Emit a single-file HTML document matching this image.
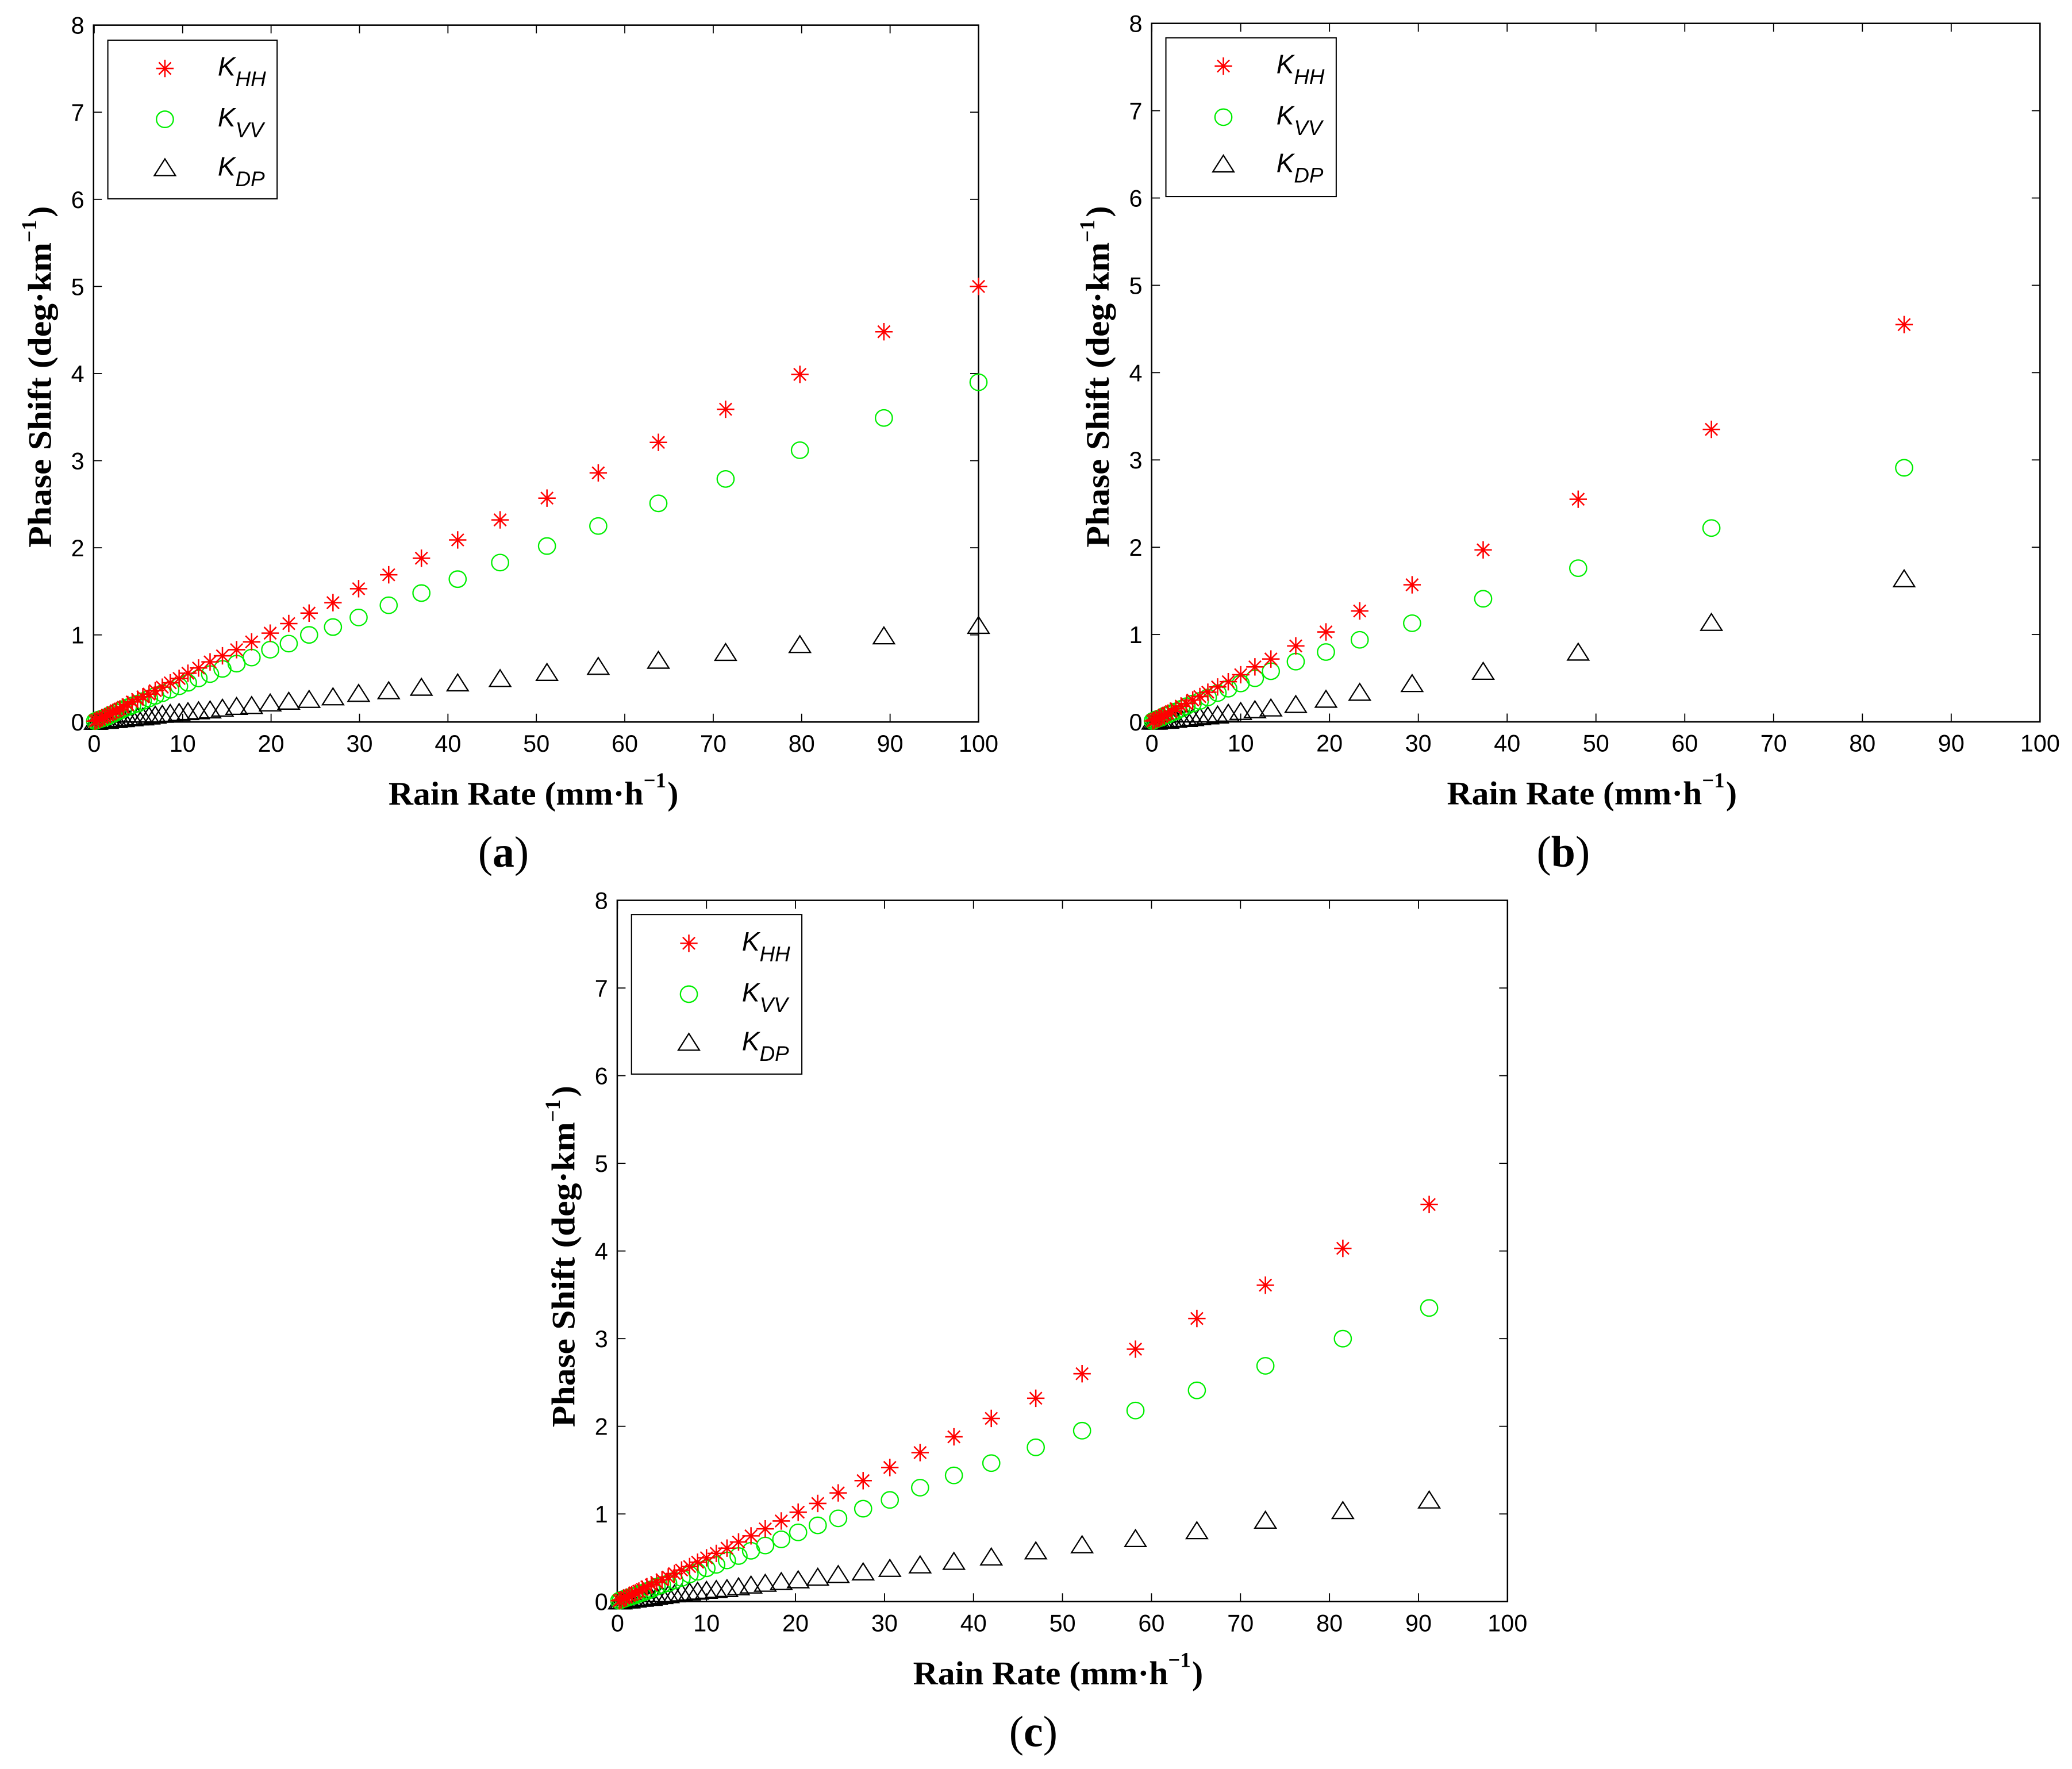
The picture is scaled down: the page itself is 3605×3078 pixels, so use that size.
<!DOCTYPE html>
<html><head><meta charset="utf-8"><style>
html,body{margin:0;padding:0;background:#fff;}
svg{display:block;}
</style></head><body>
<svg id="fig" xmlns="http://www.w3.org/2000/svg" width="3605" height="3078" viewBox="0 0 1568 1339" preserveAspectRatio="none">
<rect x="0" y="0" width="1568" height="1339" fill="#fff"/>
</svg>
<script>
// ---- Panel (a) data ----
const aRain = [100,89.3,79.8,71.4,63.8,57,51.2,45.9,41.1,37,33.3,29.9,27,24.3,22,19.9,17.8,16.1,14.5,13.1,11.8,10.6,9.6,8.6,7.7,6.9,6.2,5.5,4.9,4.3,3.8,3.3,2.9,2.5,2.1,1.8,1.5,1.2,0.9,0.6,0.3,0.1];
const aKHH = [5.0,4.48,3.99,3.59,3.21,2.86,2.57,2.32,2.09,1.88,1.69,1.53,1.37,1.25,1.13,1.02,0.92,0.83,0.76,0.69,0.62,0.56,0.50,0.45,0.40,0.36,0.32,0.29,0.26,0.23,0.20,0.17,0.15,0.13,0.11,0.09,0.08,0.06,0.05,0.03,0.02,0.01];
const aKVV = [3.9,3.49,3.12,2.79,2.51,2.25,2.02,1.83,1.64,1.48,1.34,1.20,1.09,1.00,0.90,0.83,0.74,0.67,0.61,0.55,0.50,0.45,0.41,0.37,0.33,0.30,0.27,0.24,0.21,0.19,0.17,0.15,0.13,0.11,0.09,0.08,0.06,0.05,0.04,0.03,0.02,0.01];
const aKDP = [1.10,0.98,0.88,0.79,0.70,0.63,0.56,0.49,0.44,0.39,0.35,0.32,0.28,0.25,0.23,0.21,0.18,0.17,0.15,0.13,0.12,0.11,0.10,0.09,0.08,0.07,0.06,0.05,0.05,0.04,0.04,0.03,0.03,0.02,0.02,0.02,0.01,0.01,0.01,0.01,0,0];
// ---- Panel (b) data ----
const bRain = [84.7,63,48,37.3,29.3,23.4,19.6,16.2,13.4,11.6,10,8.6,7.4,6.3,5.4,4.6,3.9,3.3,2.7,2.2,1.8,1.4,1.1,0.8,0.5,0.3,0.1];
const bKHH = [4.55,3.35,2.55,1.97,1.57,1.27,1.03,0.87,0.72,0.63,0.54,0.46,0.40,0.34,0.29,0.25,0.21,0.18,0.15,0.12,0.10,0.08,0.06,0.04,0.03,0.02,0.01];
const bKVV = [2.91,2.22,1.76,1.41,1.13,0.94,0.80,0.69,0.58,0.50,0.44,0.38,0.33,0.28,0.24,0.21,0.18,0.15,0.12,0.10,0.08,0.07,0.05,0.04,0.03,0.02,0.01];
const bKDP = [1.63,1.13,0.79,0.57,0.43,0.33,0.25,0.19,0.15,0.13,0.11,0.09,0.07,0.06,0.05,0.04,0.03,0.03,0.02,0.02,0.01,0.01,0.01,0.01,0,0,0];
// ---- Panel (c) data ----
const cRain = [91.2,81.5,72.8,65.1,58.2,52.2,47.0,42.0,37.8,34.0,30.6,27.6,24.8,22.5,20.3,18.4,16.6,15.0,13.6,12.3,11.1,10.0,9.0,8.1,7.2,6.4,5.7,5.0,4.4,3.8,3.3,2.8,2.4,2.0,1.6,1.3,1.0,0.7,0.4,0.2];
const cKHH = [4.53,4.03,3.61,3.23,2.88,2.60,2.32,2.09,1.88,1.70,1.53,1.38,1.24,1.12,1.02,0.92,0.83,0.75,0.68,0.61,0.55,0.50,0.45,0.40,0.36,0.32,0.28,0.25,0.22,0.19,0.17,0.14,0.12,0.10,0.08,0.07,0.05,0.04,0.02,0.01];
const cKVV = [3.35,3.00,2.69,2.41,2.18,1.95,1.76,1.58,1.44,1.30,1.16,1.06,0.95,0.87,0.79,0.71,0.64,0.58,0.52,0.47,0.42,0.38,0.34,0.31,0.27,0.24,0.21,0.19,0.17,0.14,0.12,0.10,0.09,0.07,0.06,0.05,0.04,0.03,0.02,0.01];
const cKDP = [1.15,1.03,0.92,0.80,0.71,0.64,0.57,0.50,0.45,0.41,0.37,0.33,0.30,0.27,0.24,0.22,0.20,0.18,0.16,0.14,0.13,0.12,0.11,0.10,0.09,0.08,0.07,0.06,0.05,0.04,0.04,0.03,0.03,0.02,0.02,0.01,0.01,0.01,0,0];
const xTicks = [0,10,20,30,40,50,60,70,80,90,100];
const yTicks = [0,1,2,3,4,5,6,7,8];

const NS = "http://www.w3.org/2000/svg";
const svg = document.getElementById('fig');
function mk(tag, attrs, parent){
  const e = document.createElementNS(NS, tag);
  for (const k in attrs) e.setAttribute(k, attrs[k]);
  (parent||svg).appendChild(e);
  return e;
}

function star(g, x, y){
  const s = 6.6, d = 4.6;
  const p = `M${x-s},${y}L${x+s},${y}M${x},${y-s}L${x},${y+s}M${x-d},${y-d}L${x+d},${y+d}M${x-d},${y+d}L${x+d},${y-d}`;
  return mk('path', {d:p, stroke:'#ff0000', 'stroke-width':1.1, fill:'none'}, g);
}
function circ(g, x, y){
  return mk('ellipse', {cx:x, cy:y, rx:6.4, ry:6.2, stroke:'#00ee00', 'stroke-width':1, fill:'none'}, g);
}
function tri(g, x, y){
  return mk('path', {d:`M${x},${y-7.2}L${x+8},${y+5.4}L${x-8},${y+5.4}Z`, stroke:'#000', 'stroke-width':1, fill:'none'}, g);
}

function panel(cfg){
  const P = mk('g', {});
  
  
  const X = v => cfg.zero + v * (cfg.right - cfg.zero) / 100;
  const Y = v => cfg.bottom - v * (cfg.bottom - cfg.top) / 8;
  const box = mk('rect', {x:cfg.left, y:cfg.top, width:cfg.right-cfg.left, height:cfg.bottom-cfg.top, fill:'none', stroke:'#000', 'stroke-width':1.1}, P);
  
  
  const tl = 6.3;
  const xg = mk('g', {}, P);
  
  
  xTicks.forEach(t => {
    const x = X(t);
    mk('line', {x1:x, y1:cfg.bottom, x2:x, y2:cfg.bottom-tl, stroke:'#000', 'stroke-width':0.8}, xg);
    mk('line', {x1:x, y1:cfg.top, x2:x, y2:cfg.top+tl, stroke:'#000', 'stroke-width':0.8}, xg);
    const tx = mk('text', {x:x, y:cfg.bottom+22.5, 'text-anchor':'middle', 'font-family':'"Liberation Sans", Arial, sans-serif', 'font-size':18, fill:'#000'}, xg);
    tx.textContent = t;
    
    
  });
  const yg = mk('g', {}, P);
  
  
  yTicks.forEach(t => {
    const y = Y(t);
    mk('line', {x1:cfg.left, y1:y, x2:cfg.left+tl, y2:y, stroke:'#000', 'stroke-width':0.8}, yg);
    mk('line', {x1:cfg.right, y1:y, x2:cfg.right-tl, y2:y, stroke:'#000', 'stroke-width':0.8}, yg);
    const tx = mk('text', {x:cfg.left-7, y:y+6.5, 'text-anchor':'end', 'font-family':'"Liberation Sans", Arial, sans-serif', 'font-size':18, fill:'#000'}, yg);
    tx.textContent = t;
    
    
  });
  const sDP = mk('g', {}, P);
  
  
  cfg.rain.forEach((r,i) => tri(sDP, X(r), Y(cfg.dp[i])));
  const sVV = mk('g', {}, P);
  
  
  cfg.rain.forEach((r,i) => circ(sVV, X(r), Y(cfg.vv[i])));
  const sHH = mk('g', {}, P);
  
  
  cfg.rain.forEach((r,i) => star(sHH, X(r), Y(cfg.hh[i])));
  const L = cfg.leg;
  const lg = mk('g', {}, P);
  
  
  mk('rect', {x:L.x0, y:L.y0, width:L.x1-L.x0, height:L.y1-L.y0, fill:'#fff', stroke:'#000', 'stroke-width':0.9}, lg);
  const labels = [['K','HH'],['K','VV'],['K','DP']];
  const fns = [star, circ, tri];
  const names = ['legend-entry-khh','legend-entry-kvv','legend-entry-kdp'];
  L.ys.forEach((y,i) => {
    const e = mk('g', {}, lg);
    
    
    fns[i](e, L.mx, y);
    const t = mk('text', {x:L.tx, y:y+5.5, 'font-family':'"Liberation Sans", Arial, sans-serif', 'font-style':'italic', 'font-size':20, fill:'#000'}, e);
    const a = mk('tspan', {}, t); a.textContent = labels[i][0];
    const b = mk('tspan', {dy:8, 'font-size':16}, t); b.textContent = labels[i][1];
  });
  const yl = mk('text', {transform:`translate(${cfg.left-32.4},${cfg.bottom-132}) rotate(-90)`, x:0, y:0, 'font-family':'"Liberation Serif", "Times New Roman", serif', 'font-weight':'bold', 'font-size':25, fill:'#000'}, P);
  
  
  const y1 = mk('tspan', {textLength:231, lengthAdjust:'spacingAndGlyphs'}, yl); y1.textContent = 'Phase Shift (deg·km';
  const y2 = mk('tspan', {dy:-11, 'font-size':16}, yl); y2.textContent = '−1';
  const y3 = mk('tspan', {dy:11, dx:2}, yl); y3.textContent = ')';
  const xl = mk('text', {x:cfg.xlab, y:cfg.bottom+62.5, 'font-family':'"Liberation Serif", "Times New Roman", serif', 'font-weight':'bold', 'font-size':25, fill:'#000'}, P);
  
  
  const x1 = mk('tspan', {textLength:193, lengthAdjust:'spacingAndGlyphs'}, xl); x1.textContent = 'Rain Rate (mm·h';
  const x2 = mk('tspan', {dy:-13, 'font-size':16}, xl); x2.textContent = '−1';
  const x3 = mk('tspan', {dy:13, dx:1}, xl); x3.textContent = ')';
  const pl = mk('text', {x:cfg.plx, y:cfg.bottom+109.5, 'text-anchor':'middle', 'font-family':'"Liberation Serif", "Times New Roman", serif', 'font-size':33, fill:'#000'}, P);
  
  
  const p1 = mk('tspan', {}, pl); p1.textContent = '(';
  const p2 = mk('tspan', {'font-weight':'bold'}, pl); p2.textContent = cfg.id;
  const p3 = mk('tspan', {}, pl); p3.textContent = ')';
}

panel({id:'a', left:70.8, zero:71.3, right:740.5, top:19, bottom:546.5,
  rain:aRain, hh:aKHH, vv:aKVV, dp:aKDP,
  leg:{x0:81.6, x1:209.7, y0:30.4, y1:150.5, mx:124.8, tx:164.8, ys:[51.8,90.3,127.5]},
  xlab:294, plx:381});
panel({id:'b', left:871.5, zero:871.7, right:1543.8, top:17.7, bottom:546.4,
  rain:bRain, hh:bKHH, vv:bKVV, dp:bKDP,
  leg:{x0:882.3, x1:1011.2, y0:28.6, y1:148.8, mx:925.8, tx:965.9, ys:[50,88.7,124.7]},
  xlab:1095, plx:1183});
panel({id:'c', left:467.1, zero:467.3, right:1140.8, top:681.5, bottom:1212.3,
  rain:cRain, hh:cKHH, vv:cKVV, dp:cKDP,
  leg:{x0:477.9, x1:606.8, y0:692.2, y1:813, mx:521.3, tx:561.5, ys:[714,752.5,789.5]},
  xlab:691, plx:782});
</script>
</body></html>
